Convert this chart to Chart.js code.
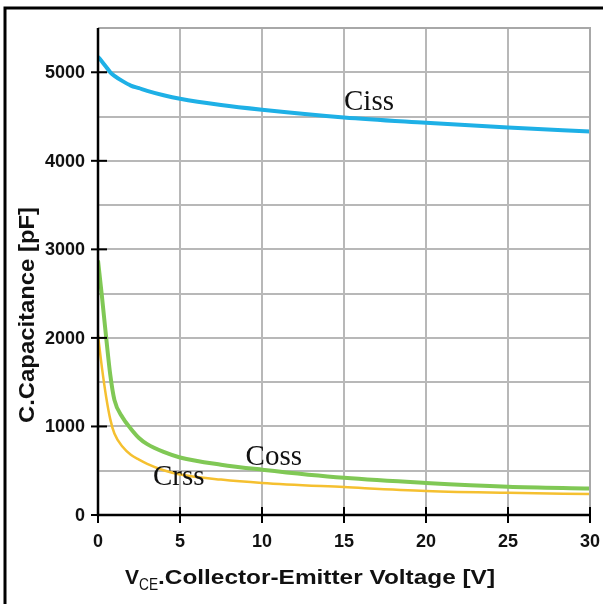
<!DOCTYPE html>
<html><head><meta charset="utf-8">
<script src="https://cdn.jsdelivr.net/npm/chart.js@4.4.1/dist/chart.umd.min.js"></script>
<style>html,body{margin:0;padding:0;background:#fff;}#wrap{width:603px;height:604px;}</style>
</head><body><div id="wrap"><canvas id="c" width="603" height="604"></canvas></div>
<script>
const voltage = [0, 0.25, 0.5, 0.75, 1, 1.5, 2, 2.5, 3, 4, 5, 7.5, 10, 15, 20, 25, 30];
const ciss = [5175, 5120, 5060, 5000, 4960, 4900, 4850, 4820, 4790, 4740, 4700, 4630, 4577, 4490, 4430, 4375, 4330];
const coss = [2875, 2450, 2000, 1580, 1300, 1100, 975, 870, 800, 712, 650, 568, 512, 420, 362, 320, 300];
const crss = [2030, 1650, 1330, 1080, 920, 770, 680, 625, 578, 505, 458, 400, 362, 315, 272, 250, 237];
const seriesNames = ['Ciss', 'Coss', 'Crss'];
const labelPos = [[15, 4570], [9.0, 564], [3.35, 338]];
const xTicks = [0, 5, 10, 15, 20, 25, 30];
const yTicks = [0, 1000, 2000, 3000, 4000, 5000];

const pts = arr => voltage.map((v, i) => ({x: v, y: arr[i]}));
const colors = ['#1eb0e6', '#80c855', '#f5c030'];
const widths = [4, 4, 2.5];

function fitText(c, txt, x, y, width) {
  const w = c.measureText(txt).width;
  c.save(); c.translate(x, y); c.scale(width / w, 1); c.fillText(txt, 0, 0); c.restore();
}

const deco = {
  id: 'deco',
  beforeDraw(chart) {
    const c = chart.ctx;
    c.save(); c.fillStyle = '#fff'; c.fillRect(0, 0, chart.width, chart.height); c.restore();
  },
  afterDraw(chart) {
    const c = chart.ctx, xs = chart.scales.x, ys = chart.scales.y, a = chart.chartArea;
    c.save();
    c.strokeStyle = '#000'; c.lineWidth = 3;
    c.beginPath(); c.moveTo(5, 604); c.lineTo(5, 8); c.lineTo(603, 8); c.stroke();
    c.strokeStyle = '#a8a8a8'; c.lineWidth = 2;
    c.beginPath(); c.moveTo(a.left, a.top); c.lineTo(a.right, a.top); c.lineTo(a.right, a.bottom); c.stroke();
    c.strokeStyle = '#000'; c.lineWidth = 2.5;
    c.beginPath(); c.moveTo(a.left, a.top); c.lineTo(a.left, a.bottom); c.lineTo(a.right + 1, a.bottom); c.stroke();
    c.lineWidth = 2;
    c.font = 'bold 18px "Liberation Sans", Arial, sans-serif';
    c.fillStyle = '#111';
    c.textAlign = 'right'; c.textBaseline = 'middle';
    yTicks.forEach(v => {
      const y = ys.getPixelForValue(v);
      c.beginPath(); c.moveTo(a.left - 7, y); c.lineTo(a.left + 9, y); c.stroke();
      c.fillText(String(v), a.left - 13, y + 1);
    });
    c.textAlign = 'center'; c.textBaseline = 'middle';
    xTicks.forEach(v => {
      const x = xs.getPixelForValue(v);
      c.beginPath(); c.moveTo(x, a.bottom - 8); c.lineTo(x, a.bottom + 8); c.stroke();
      c.fillText(String(v), x, a.bottom + 27);
    });
    c.font = '29px "Liberation Serif", "Times New Roman", serif';
    c.fillStyle = '#111'; c.textAlign = 'left'; c.textBaseline = 'alphabetic';
    seriesNames.forEach((n, i) => {
      c.fillText(n, xs.getPixelForValue(labelPos[i][0]), ys.getPixelForValue(labelPos[i][1]));
    });
    c.save();
    c.translate(34, 423); c.rotate(-Math.PI / 2);
    c.font = 'bold 22px "Liberation Sans", Arial, sans-serif';
    c.textAlign = 'left'; c.textBaseline = 'alphabetic';
    fitText(c, 'C.Capacitance [pF]', 0, 0, 216);
    c.restore();
    c.textAlign = 'left'; c.textBaseline = 'alphabetic';
    const by = 584;
    c.font = 'bold 21px "Liberation Sans", Arial, sans-serif';
    fitText(c, 'V', 125, by, 14);
    c.font = '16px "Liberation Sans", Arial, sans-serif';
    fitText(c, 'CE', 139, by + 6, 19);
    c.font = 'bold 21px "Liberation Sans", Arial, sans-serif';
    fitText(c, '.Collector-Emitter Voltage [V]', 158, by, 337);
    c.restore();
  }
};

new Chart(document.getElementById('c'), {
  type: 'line',
  data: {
    datasets: [ciss, coss, crss].map((arr, i) => ({
      label: seriesNames[i], data: pts(arr), borderColor: colors[i], borderWidth: widths[i],
      pointRadius: 0, cubicInterpolationMode: 'monotone', fill: false
    }))
  },
  options: {
    responsive: false, animation: false, devicePixelRatio: 1,
    layout: {padding: {left: 0, right: 13, top: 28, bottom: 0}},
    plugins: {legend: {display: false}, tooltip: {enabled: false}},
    scales: {
      x: {type: 'linear', min: 0, max: 30,
        ticks: {stepSize: 5, display: false},
        grid: {color: '#b8b8b8', lineWidth: 2, drawTicks: false},
        border: {display: false},
        afterFit(s) { s.height = 89; }
      },
      y: {min: 0, max: 5500,
        ticks: {stepSize: 500, display: false},
        grid: {color: '#b8b8b8', lineWidth: 2, drawTicks: false},
        border: {display: false},
        afterFit(s) { s.width = 98; }
      }
    }
  },
  plugins: [deco]
});
</script></body></html>
